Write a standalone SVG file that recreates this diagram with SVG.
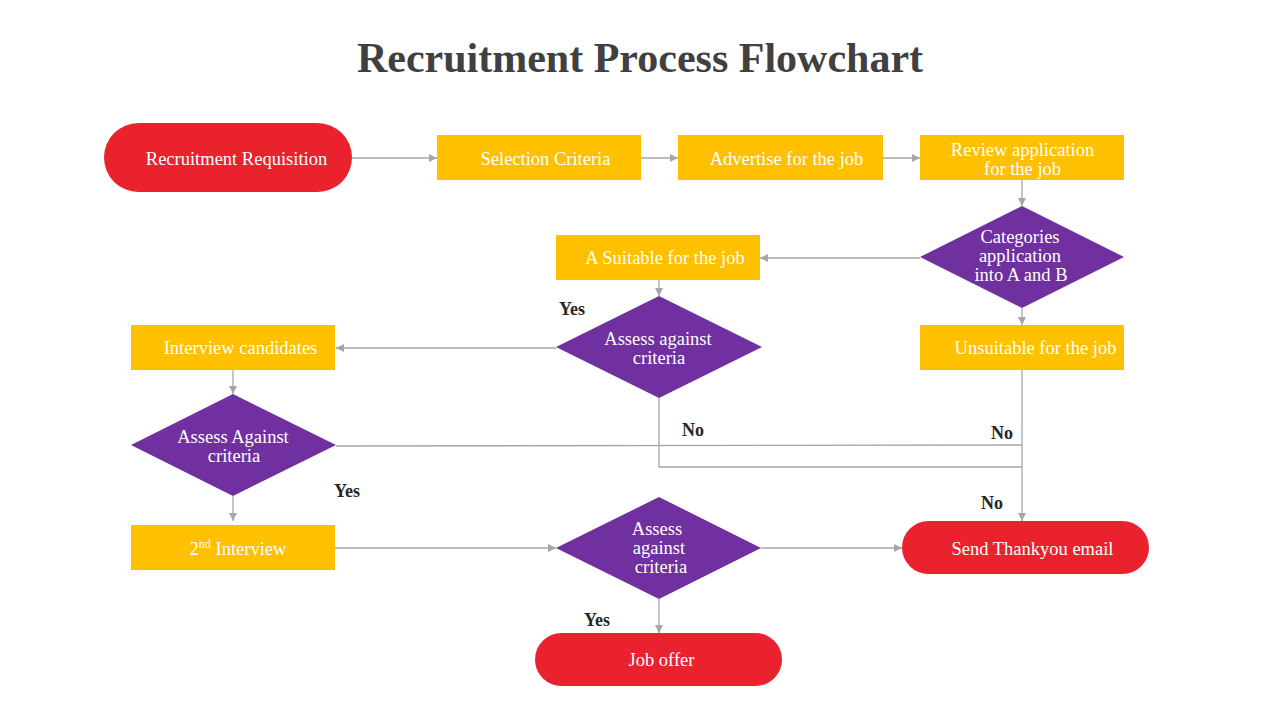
<svg xmlns="http://www.w3.org/2000/svg" width="1280" height="720" viewBox="0 0 1280 720">
<style>
.t{font-family:"Liberation Serif","DejaVu Serif",serif;font-size:18.5px;fill:#ffffff;text-anchor:middle}
.lbl{font-family:"Liberation Serif","DejaVu Serif",serif;font-size:18px;font-weight:bold;fill:#262626;text-anchor:middle}
.term{fill:#EA222E}
.proc{fill:#FFC000}
.dec{fill:#7030A0}
.c{fill:none;stroke:#A6A6A6;stroke-width:1.3}
</style>
<defs>
<marker id="ah" viewBox="0 0 10 10" refX="10" refY="5" markerWidth="8" markerHeight="8" markerUnits="userSpaceOnUse" orient="auto">
<path d="M0,0 L10,5 L0,10 z" fill="#A6A6A6"/>
</marker>
</defs>
<rect width="1280" height="720" fill="#ffffff"/>
<text x="640" y="72" font-family="'Liberation Serif','DejaVu Serif',serif" font-size="42" font-weight="bold" fill="#404040" text-anchor="middle">Recruitment Process Flowchart</text>

<g id="connectors">
<line class="c" x1="352" y1="158" x2="437" y2="158" marker-end="url(#ah)"/>
<line class="c" x1="641" y1="158" x2="678" y2="158" marker-end="url(#ah)"/>
<line class="c" x1="883" y1="158" x2="920" y2="158" marker-end="url(#ah)"/>
<line class="c" x1="1022" y1="180" x2="1022" y2="206" marker-end="url(#ah)"/>
<line class="c" x1="920" y1="258" x2="760" y2="258" marker-end="url(#ah)"/>
<line class="c" x1="659" y1="280" x2="659" y2="296" marker-end="url(#ah)"/>
<line class="c" x1="1022" y1="308" x2="1022" y2="325" marker-end="url(#ah)"/>
<line class="c" x1="556" y1="348" x2="336" y2="348" marker-end="url(#ah)"/>
<line class="c" x1="233" y1="370" x2="233" y2="394" marker-end="url(#ah)"/>
<line class="c" x1="233" y1="496" x2="233" y2="521" marker-end="url(#ah)"/>
<polyline class="c" points="336,446 1022,445"/>
<polyline class="c" points="659,398 659,467 1022,467"/>
<line class="c" x1="1022" y1="370" x2="1022" y2="521" marker-end="url(#ah)"/>
<line class="c" x1="335" y1="548" x2="556" y2="548" marker-end="url(#ah)"/>
<line class="c" x1="761" y1="548" x2="902" y2="548" marker-end="url(#ah)"/>
<line class="c" x1="659" y1="599" x2="659" y2="633" marker-end="url(#ah)"/>
</g>

<g id="edge-labels">
<text class="lbl" x="572" y="315">Yes</text>
<text class="lbl" x="693" y="436">No</text>
<text class="lbl" x="1002" y="439">No</text>
<text class="lbl" x="347" y="497">Yes</text>
<text class="lbl" x="992" y="509">No</text>
<text class="lbl" x="597" y="626">Yes</text>
</g>

<g id="n-requisition">
<rect class="term" x="104" y="123" width="248" height="69" rx="34.5"/>
<text class="t" x="236.5" y="165">Recruitment Requisition</text>
</g>
<g id="n-selection">
<rect class="proc" x="437" y="135" width="204" height="45"/>
<text class="t" x="545.5" y="165">Selection Criteria</text>
</g>
<g id="n-advertise">
<rect class="proc" x="678" y="135" width="205" height="45"/>
<text class="t" x="786.5" y="165">Advertise for the job</text>
</g>
<g id="n-review">
<rect class="proc" x="920" y="135" width="204" height="45"/>
<text class="t" x="1022.5" y="156">Review application</text>
<text class="t" x="1022.5" y="175">for the job</text>
</g>
<g id="n-categories">
<polygon class="dec" points="1022,206 1124,257 1022,308 920,257"/>
<text class="t" x="1020" y="243">Categories</text>
<text class="t" x="1020" y="262">application</text>
<text class="t" x="1021" y="281">into A and B</text>
</g>
<g id="n-suitable">
<rect class="proc" x="556" y="235" width="204" height="45"/>
<text class="t" x="665" y="264">A Suitable for the job</text>
</g>
<g id="n-assess1">
<polygon class="dec" points="659,296 762,347 659,398 556,347"/>
<text class="t" x="658" y="345">Assess against</text>
<text class="t" x="659" y="364">criteria</text>
</g>
<g id="n-unsuitable">
<rect class="proc" x="920" y="325" width="204" height="45"/>
<text class="t" x="1035.5" y="354">Unsuitable for the job</text>
</g>
<g id="n-interview">
<rect class="proc" x="131" y="325" width="204" height="45"/>
<text class="t" x="240.5" y="354">Interview candidates</text>
</g>
<g id="n-assess2">
<polygon class="dec" points="233,394 336,445 233,496 131,445"/>
<text class="t" x="233" y="443">Assess Against</text>
<text class="t" x="234" y="462">criteria</text>
</g>
<g id="n-second">
<rect class="proc" x="131" y="525" width="204" height="45"/>
<text class="t" x="238" y="555">2<tspan font-size="12" dy="-7">nd</tspan><tspan dy="7"> Interview</tspan></text>
</g>
<g id="n-assess3">
<polygon class="dec" points="659,497 761,548 659,599 556,548"/>
<text class="t" x="657" y="535">Assess</text>
<text class="t" x="659" y="554">against</text>
<text class="t" x="661" y="573">criteria</text>
</g>
<g id="n-thankyou">
<rect class="term" x="902" y="521" width="247" height="53" rx="26.5"/>
<text class="t" x="1032.5" y="555">Send Thankyou email</text>
</g>
<g id="n-offer">
<rect class="term" x="535" y="633" width="247" height="53" rx="26.5"/>
<text class="t" x="661.5" y="666">Job offer</text>
</g>
</svg>
